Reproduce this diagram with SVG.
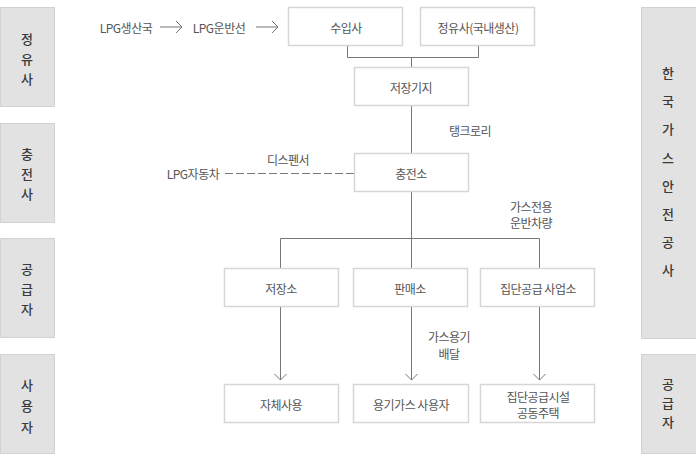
<svg xmlns="http://www.w3.org/2000/svg" width="696" height="463" viewBox="0 0 696 463">
  <style>
    text { font-family: "Noto Sans CJK KR", "Noto Sans", sans-serif; font-size: 12px; fill: #555; letter-spacing: -0.5px; }
    .side rect { fill: #e2e2e2; stroke: #d2d2d2; stroke-width: 1; }
    .side text { fill: #3a3a3a; font-size: 13px; letter-spacing: 0; font-weight: 500; }
    .node rect { fill: #fff; stroke: #d6d6d6; stroke-width: 1.5; }
    .c { text-anchor: middle; dominant-baseline: central; }
    .ln { fill: none; stroke: #777; stroke-width: 1; }
    .dash { stroke-dasharray: 8,3; }
  </style>
  <defs>
    <marker id="chev" markerUnits="userSpaceOnUse" markerWidth="14" markerHeight="14" viewBox="-7 -7 14 14" refX="0" refY="0" orient="auto">
      <path d="M-6,-6 L0,0 L-6,6" fill="none" stroke="#777" stroke-width="1"/>
    </marker>
  </defs>
  <rect x="0" y="0" width="696" height="463" fill="#fff"/>

  <!-- Side labels left -->
  <g id="side-refinery" class="side">
    <rect x="0.5" y="7.5" width="54" height="99"/>
    <text class="c" x="27" y="38">정</text>
    <text class="c" x="27" y="58">유</text>
    <text class="c" x="27" y="78">사</text>
  </g>
  <g id="side-charging" class="side">
    <rect x="0.5" y="123.5" width="54" height="99"/>
    <text class="c" x="27" y="153">충</text>
    <text class="c" x="27" y="173">전</text>
    <text class="c" x="27" y="193">사</text>
  </g>
  <g id="side-supplier" class="side">
    <rect x="0.5" y="238.5" width="54" height="99"/>
    <text class="c" x="27" y="268">공</text>
    <text class="c" x="27" y="288">급</text>
    <text class="c" x="27" y="308">자</text>
  </g>
  <g id="side-user" class="side">
    <rect x="0.5" y="354.5" width="54" height="99"/>
    <text class="c" x="27" y="384">사</text>
    <text class="c" x="27" y="405">용</text>
    <text class="c" x="27" y="426">자</text>
  </g>

  <!-- Side labels right -->
  <g id="side-kgs" class="side">
    <rect x="641.5" y="7.5" width="55" height="331"/>
    <text class="c" x="668" y="72">한</text>
    <text class="c" x="668" y="100">국</text>
    <text class="c" x="668" y="128">가</text>
    <text class="c" x="668" y="157">스</text>
    <text class="c" x="668" y="185">안</text>
    <text class="c" x="668" y="213">전</text>
    <text class="c" x="668" y="241">공</text>
    <text class="c" x="668" y="269">사</text>
  </g>
  <g id="side-supplier-right" class="side">
    <rect x="641.5" y="354.5" width="55" height="99"/>
    <text class="c" x="668" y="383">공</text>
    <text class="c" x="668" y="402">급</text>
    <text class="c" x="668" y="421">자</text>
  </g>

  <!-- Connectors -->
  <g id="connectors">
    <line class="ln" x1="160" y1="27" x2="182" y2="27" marker-end="url(#chev)"/>
    <line class="ln" x1="256" y1="27" x2="278" y2="27" marker-end="url(#chev)"/>
    <polyline class="ln" points="347.5,46 347.5,57.5 478.5,57.5 478.5,46"/>
    <line class="ln" x1="411.5" y1="57.5" x2="411.5" y2="67"/>
    <line class="ln" x1="411.5" y1="106" x2="411.5" y2="153"/>
    <line class="ln dash" x1="225" y1="173.5" x2="354" y2="173.5"/>
    <line class="ln" x1="411.5" y1="192" x2="411.5" y2="238.5"/>
    <polyline class="ln" points="280.5,268 280.5,238.5 539.5,238.5 539.5,268"/>
    <line class="ln" x1="411.5" y1="238.5" x2="411.5" y2="268"/>
    <line class="ln" x1="280.5" y1="307" x2="280.5" y2="380" marker-end="url(#chev)"/>
    <line class="ln" x1="411.5" y1="307" x2="411.5" y2="380" marker-end="url(#chev)"/>
    <line class="ln" x1="539.5" y1="307" x2="539.5" y2="380" marker-end="url(#chev)"/>
  </g>

  <!-- Free labels -->
  <g id="labels">
    <text class="c" x="126" y="27">LPG생산국</text>
    <text class="c" x="219" y="27">LPG운반선</text>
    <text class="c" x="470" y="130">탱크로리</text>
    <text class="c" x="288" y="159">디스펜서</text>
    <text class="c" x="193" y="173">LPG자동차</text>
    <text class="c" x="531" y="206">가스전용</text>
    <text class="c" x="531" y="222">운반차량</text>
    <text class="c" x="449" y="336">가스용기</text>
    <text class="c" x="449" y="353">배달</text>
  </g>

  <!-- Nodes -->
  <g id="node-importer" class="node">
    <rect x="288.5" y="7.5" width="114" height="38"/>
    <text class="c" x="346" y="27">수입사</text>
  </g>
  <g id="node-refiner" class="node">
    <rect x="420.5" y="7.5" width="114" height="38"/>
    <text class="c" x="478" y="27">정유사(국내생산)</text>
  </g>
  <g id="node-storage-base" class="node">
    <rect x="354.5" y="67.5" width="114" height="38"/>
    <text class="c" x="411" y="87">저장기지</text>
  </g>
  <g id="node-charging" class="node">
    <rect x="354.5" y="153.5" width="114" height="38"/>
    <text class="c" x="411" y="173">충전소</text>
  </g>
  <g id="node-storage" class="node">
    <rect x="224.5" y="268.5" width="114" height="38"/>
    <text class="c" x="281" y="288">저장소</text>
  </g>
  <g id="node-sales" class="node">
    <rect x="353.5" y="268.5" width="114" height="38"/>
    <text class="c" x="410" y="288">판매소</text>
  </g>
  <g id="node-group-supply" class="node">
    <rect x="480.5" y="268.5" width="114" height="38"/>
    <text class="c" x="538" y="288">집단공급 사업소</text>
  </g>
  <g id="node-self-use" class="node">
    <rect x="224.5" y="384.5" width="114" height="38"/>
    <text class="c" x="281" y="404">자체사용</text>
  </g>
  <g id="node-cylinder-user" class="node">
    <rect x="353.5" y="384.5" width="115" height="38"/>
    <text class="c" x="411" y="404">용기가스 사용자</text>
  </g>
  <g id="node-apartment" class="node">
    <rect x="480.5" y="384.5" width="114" height="38"/>
    <text class="c" x="538" y="396">집단공급시설</text>
    <text class="c" x="538" y="412">공동주택</text>
  </g>
</svg>
